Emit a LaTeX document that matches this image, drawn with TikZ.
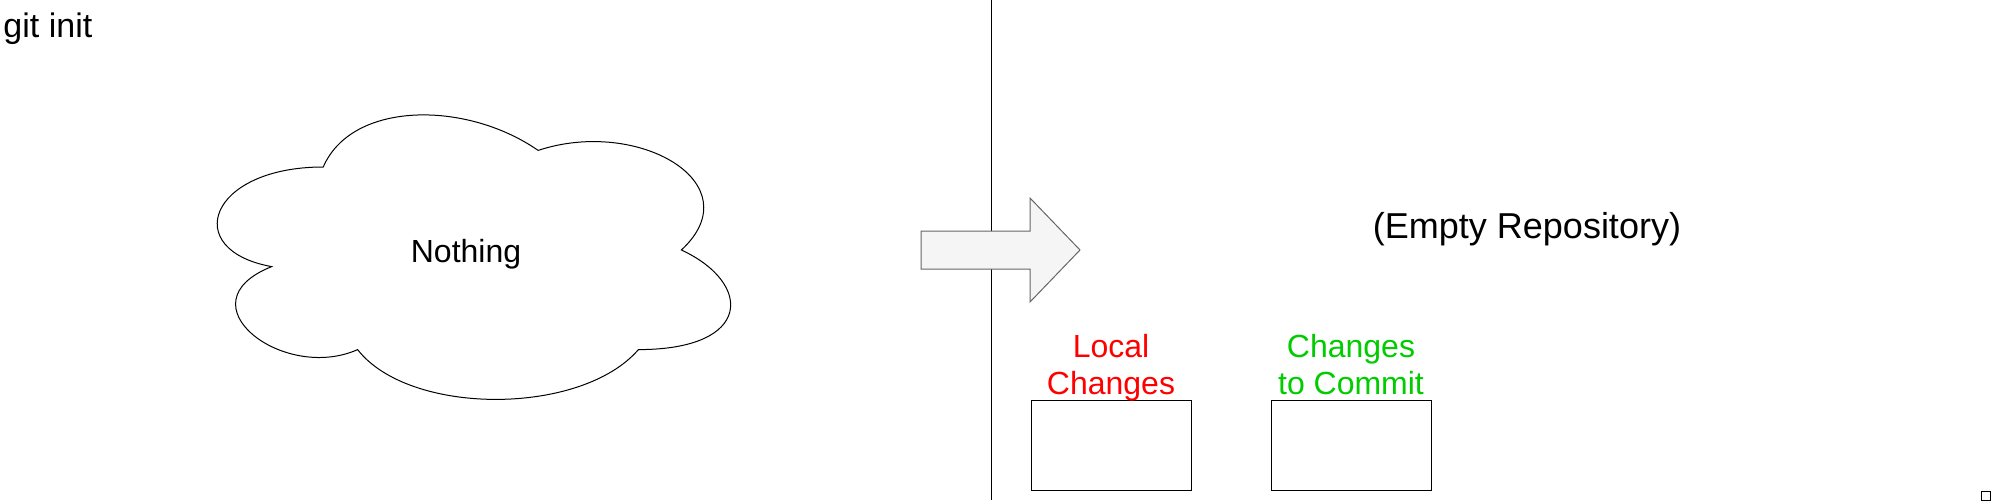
\documentclass[tikz,border=0pt]{standalone}
\usepackage{fontspec}
\setmainfont{Liberation Sans}
\usepackage{tikz}
\usetikzlibrary{positioning}
\definecolor{arrowfill}{HTML}{F5F5F5}
\definecolor{arrowline}{HTML}{666666}
\definecolor{localred}{HTML}{FF0000}
\definecolor{commitgreen}{HTML}{00CC00}

\begin{document}
\begin{tikzpicture}[x=0.5pt,y=-0.5pt,line width=0.5pt]

	\useasboundingbox (0,0) rectangle (1991,503);

	\tikzstyle{heading}=[anchor=base west,inner sep=0pt,font=\fontsize{17pt}{20pt}\selectfont]
	\tikzstyle{names}=[anchor=base,inner sep=0pt,font=\fontsize{16pt}{19pt}\selectfont]
	\tikzstyle{area}=[draw,fill=white,minimum width=80pt,minimum height=45pt,inner sep=0pt]
	\tikzstyle{arealabel}=[anchor=north,align=center,inner sep=0pt,font=\fontsize{16pt}{18.5pt}\selectfont]

	%Title
	\node[heading] (title) at (3,37) {git init};

	%Divider
	\coordinate (div-top) at (991,0);
	\coordinate (div-bot) at (991,500);
	\draw (div-top) -- (div-bot);

	%Cloud
	\begin{scope}[shift={(180,84)},x={(286.5pt,0pt)},y={(0pt,-166pt)}]
		\draw (0.25,0.25) .. controls (0.05,0.25) and (0,0.5) .. (0.16,0.55)
			.. controls (0,0.66) and (0.18,0.9) .. (0.31,0.8)
			.. controls (0.4,1) and (0.7,1) .. (0.8,0.8)
			.. controls (1,0.8) and (1,0.6) .. (0.875,0.5)
			.. controls (1,0.3) and (0.8,0.1) .. (0.625,0.2)
			.. controls (0.5,0.05) and (0.3,0.05) .. (0.25,0.25) -- cycle;
	\end{scope}
	\node[names] (nothing) at (466,262) {Nothing};

	%Arrow
	\draw[draw=arrowline,fill=arrowfill] (921,231) -- (1030,231) -- (1030,198) -- (1080,250)
		-- (1030,302) -- (1030,269) -- (921,269) -- cycle;

	%Repository
	\node[names,font=\fontsize{18pt}{20pt}\selectfont] (repo) at (1527,238) {(Empty Repository)};

	%Areas
	\node[area] (local) at (1111,445) {};
	\node[area] (commit) at (1351,445) {};
	\node[arealabel,text=localred] (local-name) at (1111,334) {Local\\Changes};
	\node[arealabel,text=commitgreen] (commit-name) at (1351,334) {Changes\\to Commit};

	%Corner
	\node[draw,minimum size=4.5pt,inner sep=0pt] (corner) at (1985.5,495.5) {};

\end{tikzpicture}
\end{document}
